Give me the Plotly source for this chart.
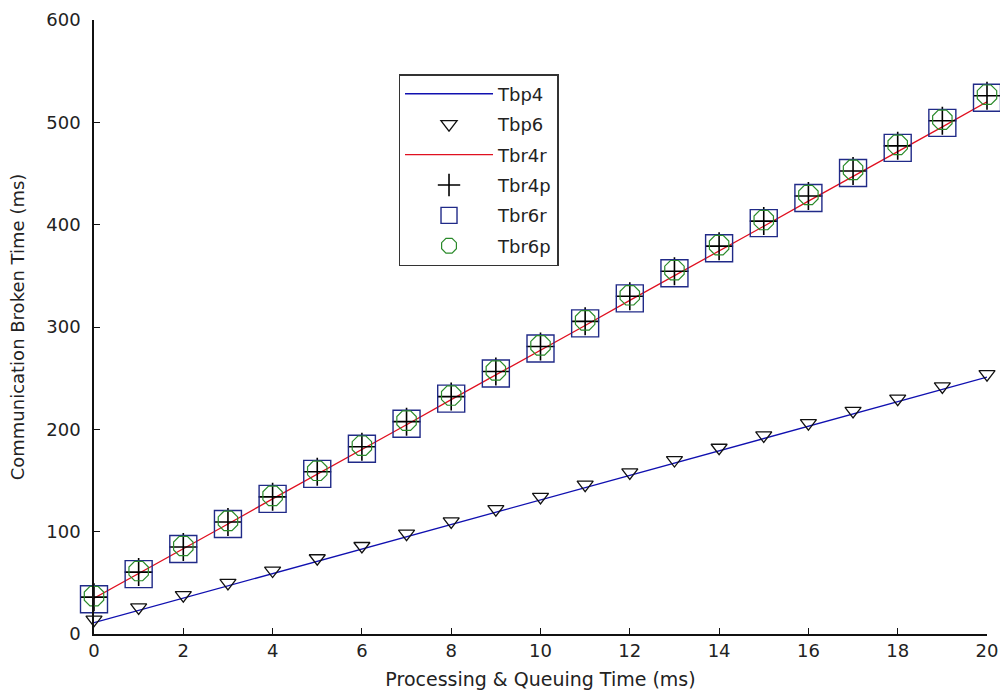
import plotly.graph_objects as go

x_vals = list(range(0, 21))
tbp4 = [11, 23, 35, 47, 59, 71, 83, 95, 107, 119, 131, 143, 155, 167, 179, 191, 203, 215, 227, 239, 251]
tbp6 = [14, 26, 38, 50, 62, 74, 86, 98, 110, 122, 134, 146, 158, 170, 182, 194, 206, 218, 230, 242, 254]
tbr4r = [35, 59, 83, 107.5, 132, 156, 180, 204.5, 229, 253, 277, 301.5, 326, 350, 374, 398.5, 423, 447, 471, 495.5, 520]
tbr4p = [36, 60.5, 85, 109.5, 134, 158.5, 183, 207.5, 232, 256.5, 281, 305.5, 330, 354.5, 379, 403.5, 428, 452.5, 477, 501.5, 526]
tbr6r = [34, 58.5, 83, 107.5, 132, 156.5, 181, 205.5, 230, 254.5, 279, 303.5, 328, 352.5, 377, 401.5, 426, 450.5, 475, 499.5, 524]
tbr6p = [37, 61.5, 86, 110.5, 135, 159.5, 184, 208.5, 233, 257.5, 282, 306.5, 331, 355.5, 380, 404.5, 429, 453.5, 478, 502.5, 527]

x_ticks = [0, 2, 4, 6, 8, 10, 12, 14, 16, 18, 20]
y_ticks = [0, 100, 200, 300, 400, 500, 600]

FONT = "DejaVu Sans, Liberation Sans, sans-serif"
TXT = "#222222"

fig = go.Figure()
fig.add_trace(go.Scatter(x=x_vals, y=tbp4, mode="lines", name="Tbp4", legendgroup="a",
                         cliponaxis=False, line=dict(color="#1010b0", width=1.3)))
fig.add_trace(go.Scatter(x=x_vals, y=tbp6, mode="markers", name="Tbp6", legendgroup="b",
                         cliponaxis=False,
                         marker=dict(symbol="triangle-down-open", size=14, color="#111111",
                                     line=dict(width=1.3, color="#111111"))))
fig.add_trace(go.Scatter(x=x_vals, y=tbr4r, mode="lines", name="Tbr4r", legendgroup="c",
                         cliponaxis=False, line=dict(color="#e01020", width=1.3)))
fig.add_trace(go.Scatter(x=x_vals, y=tbr4p, mode="markers", name="Tbr4p", legendgroup="d",
                         cliponaxis=False,
                         marker=dict(symbol="cross-thin-open", size=20, color="#000000",
                                     line=dict(width=1.6, color="#000000"))))
fig.add_trace(go.Scatter(x=x_vals, y=tbr6r, mode="markers", name="Tbr6r", legendgroup="e",
                         cliponaxis=False,
                         marker=dict(symbol="square-open", size=27, color="#202a88",
                                     line=dict(width=1.4, color="#202a88"))))
fig.add_trace(go.Scatter(x=x_vals, y=tbr6p, mode="markers", name="Tbr6p", legendgroup="f",
                         cliponaxis=False,
                         marker=dict(symbol="octagon-open", size=21, color="#2a8a2a",
                                     line=dict(width=1.2, color="#2a8a2a"))))

fig.update_layout(
    width=1000, height=695,
    margin=dict(l=94, r=13, t=20, b=61),
    paper_bgcolor="white", plot_bgcolor="white",
    font=dict(family=FONT, size=18, color=TXT),
    showlegend=True,
    legend=dict(x=0.341, y=0.912, xanchor="left", yanchor="top",
                bordercolor="#333333", borderwidth=1.5, bgcolor="white",
                font=dict(family=FONT, size=18, color=TXT),
                itemwidth=88, tracegroupgap=4, itemsizing="trace"),
    xaxis=dict(range=[0, 20], tickvals=x_ticks, ticktext=[str(v) for v in x_ticks],
               showgrid=False, zeroline=False, showline=True, linecolor="#111111", linewidth=1.5,
               ticks="inside", ticklen=6, tickcolor="#111111", mirror=False, automargin=False,
               tickfont=dict(family=FONT, size=18, color=TXT),
               title=dict(text="Processing & Queuing Time (ms)", standoff=12,
                          font=dict(family=FONT, size=19, color=TXT))),
    yaxis=dict(range=[0, 600], tickvals=y_ticks, ticktext=[str(v) for v in y_ticks],
               showgrid=False, zeroline=False, showline=True, linecolor="#111111", linewidth=1.5,
               ticks="inside", ticklen=6, tickcolor="#111111", mirror=False, automargin=False,
               ticklabelstandoff=8,
               tickfont=dict(family=FONT, size=18, color=TXT),
               title=dict(text="Communication Broken Time (ms)", standoff=17,
                          font=dict(family=FONT, size=18, color=TXT))),
)

fig.write_html("out.html")
